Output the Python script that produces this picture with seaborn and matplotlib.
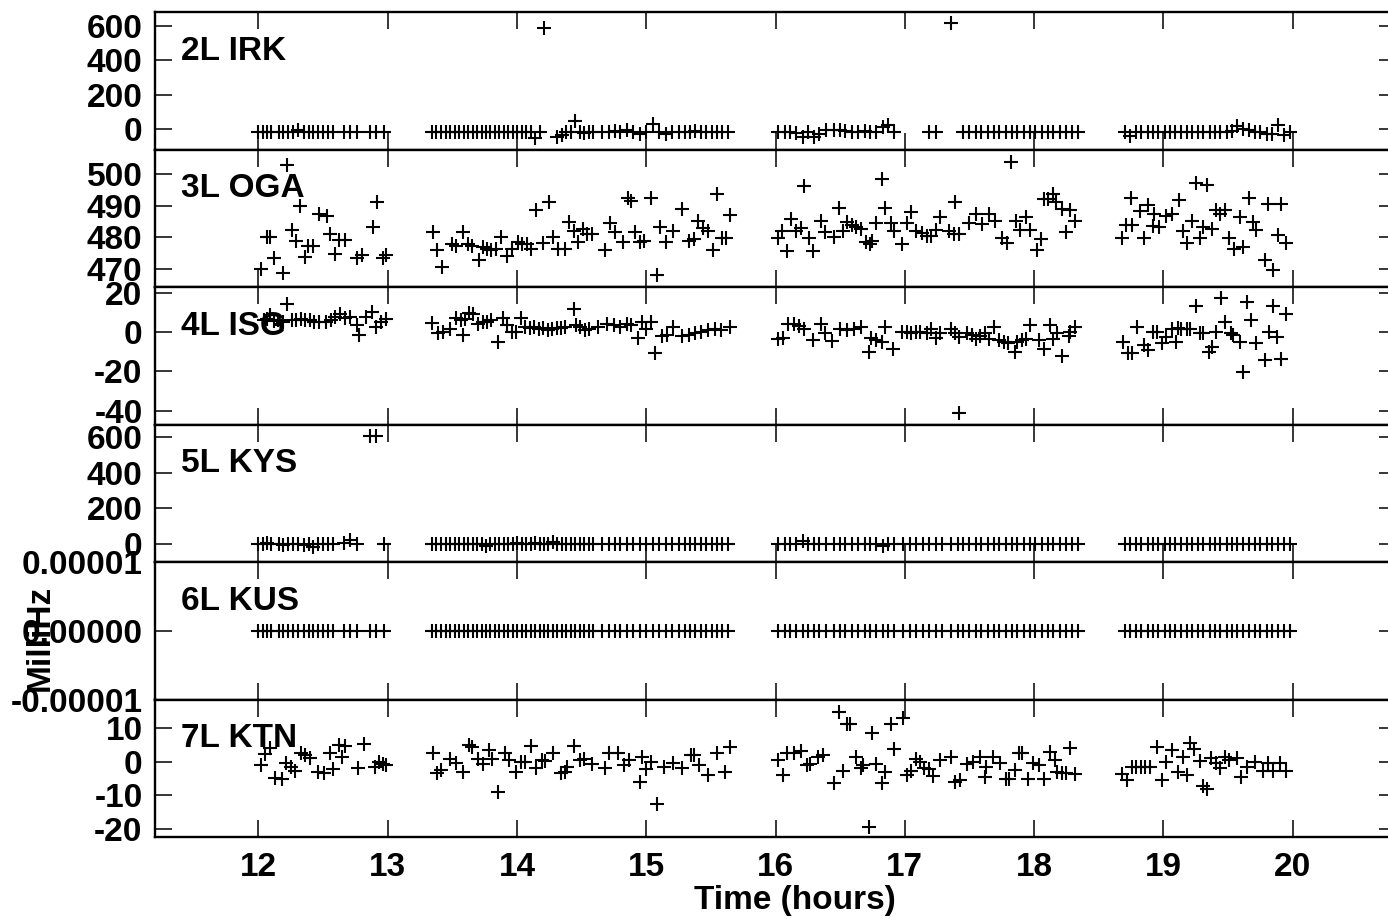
import numpy as np
import matplotlib
matplotlib.use("Agg")
import matplotlib.pyplot as plt
from matplotlib.ticker import FormatStrFormatter
import seaborn as sns

sns.set_theme(style="white")
plt.rcParams['font.family'] = ['Liberation Sans', 'DejaVu Sans']
plt.rcParams['font.weight'] = 'bold'
plt.rcParams['axes.unicode_minus'] = False

nan = np.nan

# ---------------- common time stamps (hours) for the dense series ----------------
T_SEG1 = [12.00, 12.035, 12.07, 12.10, 12.16, 12.19, 12.23, 12.27, 12.31, 12.35, 12.39,
          12.42, 12.46, 12.50, 12.54, 12.58, 12.66, 12.71, 12.76, 12.86, 12.91, 12.97]
T_SEG2 = [13.34, 13.37, 13.41, 13.45, 13.48, 13.52, 13.55, 13.59, 13.62, 13.66, 13.69,
          13.73, 13.76, 13.79, 13.83, 13.86, 13.90, 13.93, 13.97, 14.00, 14.04, 14.07,
          14.11, 14.14, 14.18, 14.21, 14.24, 14.28, 14.31, 14.35, 14.38, 14.42, 14.45,
          14.49, 14.52, 14.56, 14.59, 14.66, 14.71, 14.76, 14.80, 14.85, 14.90, 14.95,
          15.00, 15.05, 15.10, 15.15, 15.20, 15.25, 15.30, 15.34, 15.38, 15.42, 15.46,
          15.51, 15.55, 15.59, 15.63]
T_SEG3 = [16.02, 16.07, 16.11, 16.16, 16.21, 16.25, 16.30, 16.34, 16.39, 16.45, 16.50,
          16.54, 16.59, 16.64, 16.69, 16.73, 16.78, 16.83, 16.87, 16.92, 16.99, 17.04,
          17.09, 17.14, 17.19, 17.24, 17.29, 17.36, 17.41, 17.45, 17.50, 17.55, 17.59,
          17.64, 17.69, 17.73, 17.78, 17.83, 17.87, 17.92, 17.97, 18.01, 18.06, 18.11,
          18.15, 18.20, 18.25, 18.29, 18.34]
T_SEG4 = [18.70, 18.74, 18.79, 18.83, 18.88, 18.92, 18.96, 19.01, 19.05, 19.09, 19.14,
          19.18, 19.22, 19.27, 19.31, 19.36, 19.40, 19.44, 19.49, 19.53, 19.57, 19.62,
          19.66, 19.71, 19.75, 19.80, 19.84, 19.89, 19.93, 19.98]

# ---------------- 2L IRK ----------------
IRK_SEG1 = [-20, -20, -20, -20, -20, -20, -20, -20, -5, -20, -20,
            -20, -20, -20, -20, -20, -20, -20, -20, -20, -20, -20]
IRK_SEG2 = [-20, -20, -20, -20, -20, -20, -20, -20, -20, -20, -20,
            -20, -20, -20, -20, -20, -20, -20, -20, -20, -20, -20,
            -20, -55, -20, 590, nan, nan, -50, -35, -20, -20, 45,
            -20, -25, -20, -20, -20, -20, -15, -20, -10, -20, -30,
            -20, 30, -20, -30, -20, -20, -20, -20, -15, -20, -20,
            -20, -20, -20, -20]
IRK_SEG3 = [-20, -20, -20, -25, -50, -20, -50, -30, -10, -5, -10,
            -15, -20, -20, -15, -20, -20, 10, 20, -20, nan, nan,
            nan, nan, -20, -20, nan, 618, nan, -20, -20, -20, -20,
            -20, -20, -20, -20, -20, -20, -20, -20, -20, -20, -20,
            -20, -20, -20, -20, -20]
IRK_SEG4 = [-20, -40, -20, -20, -20, -20, -20, -20, -20, -20, -20,
            -20, -20, -20, -20, -20, -20, -20, -20, -15, 15, 0,
            -10, -20, -20, -30, -30, 20, -35, -20]

# ---------------- 5L KYS ----------------
KYS_SEG1 = [-3, -3, 2, -3, -3, -6, -3, 0, -3, -8, -3,
            -20, -3, -3, 0, -3, 5, 20, -3, 606, 606, -3]
KYS_SEG2 = [-3, -3, -3, -3, -3, -5, -3, -3, 0, -3, -3,
            -3, -12, -3, -3, -3, 0, -3, -3, 5, -3, -3,
            -3, 3, -3, -3, -3, 8, -3, -3, 0, -3, -3,
            -3, -3, -3, -3, -3, -3, -3, -3, -3, -3, -3,
            -3, -3, -3, -3, -3, -3, -3, -3, -3, -3, -3,
            -3, -3, -3, -3]
KYS_SEG3 = [-3, -3, -3, -3, 15, -3, -3, -3, -3, -3, -3,
            -3, -3, -3, -3, -3, -3, -15, -3, -3, -3, -3,
            -3, -3, -3, -3, -3, -3, -3, -3, -3, -3, -3,
            -3, -3, -3, -3, -3, -3, -3, -3, -3, -3, -3,
            -3, -3, -3, -3, -3]
KYS_SEG4 = [-3, -3, -3, -3, -3, -3, -3, -3, -3, -3, -3,
            -3, -3, -3, -3, -3, -3, -3, -3, -3, -3, -3,
            -3, -3, -3, -3, -3, -3, -3, -3]

# ---------------- 6L KUS ----------------
KUS_SEG1 = [0.0, 0.0, 0.0, 0.0, 0.0, 0.0, 0.0, 0.0, 0.0, 0.0, 0.0,
            0.0, 0.0, 0.0, 0.0, 0.0, 0.0, 0.0, 0.0, 0.0, 0.0, 0.0]
KUS_SEG2 = [0.0, 0.0, 0.0, 0.0, 0.0, 0.0, 0.0, 0.0, 0.0, 0.0, 0.0,
            0.0, 0.0, 0.0, 0.0, 0.0, 0.0, 0.0, 0.0, 0.0, 0.0, 0.0,
            0.0, 0.0, 0.0, 0.0, 0.0, 0.0, 0.0, 0.0, 0.0, 0.0, 0.0,
            0.0, 0.0, 0.0, 0.0, 0.0, 0.0, 0.0, 0.0, 0.0, 0.0, 0.0,
            0.0, 0.0, 0.0, 0.0, 0.0, 0.0, 0.0, 0.0, 0.0, 0.0, 0.0,
            0.0, 0.0, 0.0, 0.0]
KUS_SEG3 = [0.0, 0.0, 0.0, 0.0, 0.0, 0.0, 0.0, 0.0, 0.0, 0.0, 0.0,
            0.0, 0.0, 0.0, 0.0, 0.0, 0.0, 0.0, 0.0, 0.0, 0.0, 0.0,
            0.0, 0.0, 0.0, 0.0, 0.0, 0.0, 0.0, 0.0, 0.0, 0.0, 0.0,
            0.0, 0.0, 0.0, 0.0, 0.0, 0.0, 0.0, 0.0, 0.0, 0.0, 0.0,
            0.0, 0.0, 0.0, 0.0, 0.0]
KUS_SEG4 = [0.0, 0.0, 0.0, 0.0, 0.0, 0.0, 0.0, 0.0, 0.0, 0.0, 0.0,
            0.0, 0.0, 0.0, 0.0, 0.0, 0.0, 0.0, 0.0, 0.0, 0.0, 0.0,
            0.0, 0.0, 0.0, 0.0, 0.0, 0.0, 0.0, 0.0]

# ---------------- 3L OGA ----------------
OGA_T = [12.02, 12.07, 12.09, 12.12, 12.19, 12.22, 12.26, 12.29, 12.32, 12.36, 12.38,
         12.42, 12.47, 12.53, 12.55, 12.59, 12.62, 12.67, 12.76, 12.80, 12.89, 12.92,
         12.96, 12.99,
         13.35, 13.38, 13.42, 13.50, 13.53, 13.58, 13.62, 13.65, 13.71, 13.74, 13.77,
         13.80, 13.84, 13.88, 13.92, 13.96, 14.01, 14.04, 14.08, 14.11, 14.15, 14.20,
         14.25, 14.28, 14.32, 14.37, 14.40, 14.44, 14.47, 14.51, 14.54, 14.58, 14.68,
         14.72, 14.76, 14.82, 14.86, 14.88, 14.91, 14.95, 14.98, 15.04, 15.08, 15.11,
         15.15, 15.21, 15.28, 15.33, 15.37, 15.40, 15.44, 15.48, 15.52, 15.55, 15.59,
         15.62, 15.65,
         16.02, 16.05, 16.09, 16.12, 16.16, 16.20, 16.22, 16.26, 16.29, 16.35, 16.38,
         16.45, 16.49, 16.52, 16.55, 16.59, 16.62, 16.66, 16.70, 16.73, 16.75, 16.78,
         16.82, 16.85, 16.89, 16.92, 16.98, 17.02, 17.05, 17.09, 17.13, 17.17, 17.20,
         17.24, 17.27, 17.34, 17.38, 17.39, 17.42, 17.50, 17.55, 17.60, 17.65, 17.70,
         17.75, 17.79, 17.82, 17.86, 17.89, 17.94, 17.97, 18.02, 18.05, 18.08, 18.11,
         18.15, 18.17, 18.22, 18.25, 18.28, 18.32,
         18.68, 18.71, 18.75, 18.76, 18.82, 18.85, 18.88, 18.92, 18.93, 18.97, 19.02,
         19.07, 19.12, 19.15, 19.18, 19.22, 19.25, 19.28, 19.31, 19.34, 19.38, 19.41,
         19.44, 19.48, 19.51, 19.55, 19.59, 19.62, 19.66, 19.69, 19.72, 19.79, 19.81,
         19.85, 19.89, 19.91, 19.95]
OGA_V = [470.0, 480.0, 480.0, 473.3, 468.6, 503.0, 482.3, 478.9, 490.0, 473.6, 477.3,
         477.3, 487.3, 486.8, 481.0, 474.7, 479.0, 479.0, 473.5, 474.2, 483.1, 491.0,
         473.5, 474.2,
         481.5, 476.0, 470.5, 477.8, 477.3, 481.5, 477.8, 477.3, 472.8, 476.8, 476.3,
         476.0, 476.3, 480.0, 473.9, 476.3, 478.4, 477.9, 477.9, 476.3, 488.6, 478.0,
         491.0, 480.0, 476.3, 476.3, 484.7, 482.0, 478.4, 482.6, 481.0, 481.0, 475.8,
         484.4, 481.5, 478.4, 492.5, 491.5, 481.5, 478.4, 478.9, 492.3, 467.9, 483.1,
         478.4, 482.0, 488.9, 478.9, 479.5, 485.2, 483.0, 482.0, 475.8, 493.6, 479.7,
         479.7, 487.0,
         479.7, 482.0, 475.5, 485.7, 482.0, 482.9, 496.2, 479.7, 475.5, 485.0, 481.5,
         480.0, 489.2, 482.0, 484.7, 483.9, 483.1, 482.6, 478.4, 477.9, 478.9, 484.4,
         498.3, 489.2, 484.4, 482.0, 477.9, 484.4, 488.1, 481.8, 481.2, 480.5, 480.5,
         482.3, 486.3, 482.0, 481.0, 491.0, 481.0, 484.4, 487.3, 484.2, 487.3, 485.2,
         479.7, 478.0, 503.9, 485.2, 482.3, 486.5, 482.3, 476.0, 479.4, 492.0, 492.0,
         493.8, 491.0, 488.9, 481.5, 488.6, 485.0,
         479.7, 483.9, 492.3, 483.9, 488.4, 479.7, 490.2, 483.6, 487.3, 483.1, 486.8,
         487.3, 491.7, 482.0, 478.0, 485.0, 497.3, 479.7, 483.1, 496.5, 482.6, 488.6,
         487.3, 488.6, 479.7, 476.3, 486.5, 477.0, 492.5, 484.7, 482.3, 472.8, 490.5,
         469.5, 480.8, 490.5, 478.0]

# ---------------- 4L ISG ----------------
ISG_T = [12.04, 12.07, 12.09, 12.12, 12.15, 12.19, 12.22, 12.26, 12.29, 12.33, 12.36,
         12.40, 12.43, 12.47, 12.52, 12.56, 12.59, 12.63, 12.67, 12.71, 12.76, 12.78,
         12.83, 12.88, 12.91, 12.95, 12.99,
         13.34, 13.39, 13.43, 13.48, 13.53, 13.57, 13.58, 13.60, 13.63, 13.66, 13.70,
         13.74, 13.77, 13.80, 13.85, 13.89, 13.92, 13.96, 13.99, 14.03, 14.06, 14.10,
         14.13, 14.17, 14.20, 14.24, 14.27, 14.31, 14.34, 14.37, 14.44, 14.46, 14.49,
         14.53, 14.56, 14.63, 14.70, 14.75, 14.80, 14.85, 14.88, 14.94, 14.97, 15.00,
         15.04, 15.07, 15.12, 15.16, 15.21, 15.28, 15.33, 15.38, 15.42, 15.48, 15.53,
         15.58, 15.65,
         16.02, 16.06, 16.10, 16.14, 16.18, 16.22, 16.29, 16.35, 16.38, 16.44, 16.50,
         16.55, 16.61, 16.66, 16.72, 16.74, 16.78, 16.82, 16.85, 16.91, 16.98, 17.02,
         17.05, 17.09, 17.12, 17.17, 17.20, 17.24, 17.27, 17.36, 17.39, 17.42, 17.42,
         17.48, 17.52, 17.55, 17.58, 17.62, 17.65, 17.69, 17.73, 17.77, 17.80, 17.85,
         17.87, 17.91, 17.94, 17.97, 18.04, 18.08, 18.12, 18.15, 18.18, 18.22, 18.27,
         18.28, 18.32,
         18.69, 18.73, 18.76, 18.80, 18.85, 18.88, 18.92, 18.95, 18.99, 19.02, 19.07,
         19.10, 19.11, 19.14, 19.18, 19.21, 19.25, 19.28, 19.31, 19.35, 19.38, 19.41,
         19.45, 19.48, 19.52, 19.54, 19.59, 19.62, 19.65, 19.68, 19.72, 19.79, 19.82,
         19.85, 19.88, 19.91, 19.95]
ISG_V = [5.9, 6.5, 8.5, 5.5, 6.0, 5.0, 14.4, 6.0, 6.0, 6.5, 6.0,
         6.0, 5.0, 5.0, 5.0, 6.0, 7.6, 9.3, 7.0, 7.6, 3.4, -1.7,
         7.6, 10.2, 2.5, 5.1, 6.3,
         4.6, -0.8, 0.0, 1.2, 6.8, 5.9, -1.7, 6.3, 9.8, 9.0, 4.2,
         5.1, 5.1, 5.9, -5.1, 6.8, 3.4, 0.0, 0.0, 6.8, 2.5, 2.0,
         2.5, 1.5, 2.0, 1.0, 1.5, 2.0, 2.0, 2.5, 11.4, 3.4, 2.5,
         1.0, 1.2, 2.5, 4.2, 3.4, 2.5, 4.2, 3.4, -2.9, 5.1, 1.7,
         5.1, -11.0, -2.2, -1.7, 2.5, -2.2, -1.7, -0.8, 0.0, 0.8, 1.2,
         0.8, 2.5,
         -3.4, -2.9, 4.2, 4.2, 2.9, 1.2, -3.9, 4.2, -0.8, -4.6, 1.7,
         0.8, 1.7, 2.5, -10.2, -2.9, -4.2, -5.1, 2.5, -8.5, 0.0, 0.0,
         -0.8, 0.0, 0.0, -0.8, 1.7, -2.9, -0.8, 1.7, -0.8, -2.5, -41.2,
         -0.8, -1.7, -3.4, -2.2, -0.8, -3.4, 2.5, -4.2, -5.1, -5.9, -10.2,
         -5.1, -4.2, -3.4, 3.4, -4.2, -8.5, 3.4, -3.4, -0.8, -12.4, -2.2,
         0.0, 2.5,
         -5.1, -11.0, -11.0, 2.5, -6.8, -9.3, 0.0, 0.0, -5.9, -2.5, 1.5,
         -5.1, 2.0, 1.5, 1.5, 1.5, 13.0, -0.8, -0.8, -10.2, -7.6, 0.0,
         17.0, 5.1, -0.8, -1.7, -5.1, -20.3, 15.3, 5.9, -5.6, -14.4, 0.0,
         13.0, -2.5, -14.0, 9.3]

# ---------------- 7L KTN ----------------
KTN_T = [12.02, 12.05, 12.09, 12.13, 12.18, 12.21, 12.25, 12.28, 12.33, 12.36, 12.40,
         12.46, 12.51, 12.55, 12.58, 12.62, 12.65, 12.67, 12.77, 12.82, 12.90, 12.93,
         12.96, 12.99,
         13.35, 13.38, 13.41, 13.48, 13.53, 13.58, 13.63, 13.65, 13.70, 13.74, 13.78,
         13.81, 13.85, 13.91, 13.94, 13.99, 14.03, 14.06, 14.11, 14.15, 14.19, 14.22,
         14.28, 14.34, 14.37, 14.39, 14.44, 14.49, 14.52, 14.58, 14.68, 14.71, 14.78,
         14.83, 14.87, 14.95, 14.97, 15.00, 15.04, 15.08, 15.14, 15.21, 15.28, 15.35,
         15.37, 15.41, 15.48, 15.55, 15.61, 15.65,
         16.02, 16.06, 16.09, 16.14, 16.20, 16.24, 16.27, 16.33, 16.37, 16.45, 16.49,
         16.52, 16.55, 16.58, 16.62, 16.66, 16.68, 16.72, 16.75, 16.78, 16.82, 16.85,
         16.89, 16.92, 16.99, 17.02, 17.05, 17.09, 17.12, 17.15, 17.19, 17.22, 17.27,
         17.36, 17.39, 17.43, 17.48, 17.53, 17.58, 17.62, 17.63, 17.68, 17.74, 17.78,
         17.81, 17.85, 17.88, 17.91, 17.95, 17.99, 18.04, 18.08, 18.12, 18.16, 18.18,
         18.22, 18.25, 18.28, 18.32,
         18.68, 18.72, 18.76, 18.79, 18.83, 18.86, 18.90, 18.95, 18.99, 19.02, 19.07,
         19.11, 19.15, 19.18, 19.21, 19.24, 19.28, 19.31, 19.34, 19.37, 19.41, 19.44,
         19.48, 19.51, 19.57, 19.60, 19.65, 19.71, 19.77, 19.81, 19.85, 19.90, 19.95]
KTN_V = [-1.0, 2.3, 4.0, -4.7, -5.0, -0.5, -1.7, -2.7, 2.7, 2.0, 1.0,
         -3.0, -3.5, 2.5, -2.3, 5.0, 1.3, 4.5, -2.0, 5.2, -1.5, 0.0,
         -0.7, -1.0,
         2.7, -3.3, -2.5, 0.7, -0.5, -3.0, 5.0, 4.3, 0.7, -0.7, 3.5,
         0.7, -8.9, 2.5, 0.5, -3.0, 0.0, 0.0, 4.5, -2.0, 0.5, 0.3,
         2.7, -3.5, -3.0, -1.5, 4.7, 0.5, 0.7, -0.7, -2.0, 2.7, 2.7,
         -1.0, 0.5, -5.9, 1.5, -2.3, 0.0, -12.6, -1.7, -0.3, -2.0, 2.0,
         2.0, -1.0, -4.0, 2.5, -3.0, 4.3,
         0.5, -4.0, 2.7, 2.7, 3.3, -1.0, -0.7, 1.5, 2.0, -6.2, 14.6,
         -2.7, 11.2, 11.2, 1.3, -2.0, -1.0, -19.3, 8.4, -0.7, -6.2, -3.0,
         11.2, 3.7, 12.9, -4.0, -2.7, 0.7, 0.0, -2.0, -2.3, -4.3, 0.5,
         1.5, -5.9, -5.4, -0.7, 0.0, 1.5, -4.5, -1.5, 1.5, -0.5, -5.0,
         -5.0, -2.5, 2.7, 2.7, -5.2, -0.5, -1.0, -5.2, 3.0, 0.5, -3.0,
         -3.5, -3.5, 4.0, -3.7,
         -3.7, -5.4, -1.7, -1.7, -1.7, -1.7, -1.7, 4.3, -5.4, 0.0, 3.5,
         -3.0, 1.5, -4.0, 5.6, 3.7, 0.3, -7.2, -8.2, 1.0, -0.5, -2.0,
         1.5, 0.5, 1.0, -4.5, -1.5, 0.0, -2.7, -0.3, -2.7, -0.3, -2.7]

PANEL_NAMES = ["2L IRK", "3L OGA", "4L ISG", "5L KYS", "6L KUS", "7L KTN"]
X_TICKS = [12, 13, 14, 15, 16, 17, 18, 19, 20]
Y_TICKS = [[0, 200, 400, 600],
           [470, 480, 490, 500],
           [-40, -20, 0, 20],
           [0, 200, 400, 600],
           [-0.00001, 0.0, 0.00001],
           [-20, -10, 0, 10]]
Y_LIMITS = [(-121, 682), (464.2, 507.8), (-47.1, 22.8), (-104, 672), (-0.00001, 0.00001), (-22.3, 18.4)]

T_ALL = T_SEG1 + T_SEG2 + T_SEG3 + T_SEG4
series = [
    (T_ALL, IRK_SEG1 + IRK_SEG2 + IRK_SEG3 + IRK_SEG4),
    (OGA_T, OGA_V),
    (ISG_T, ISG_V),
    (T_ALL, KYS_SEG1 + KYS_SEG2 + KYS_SEG3 + KYS_SEG4),
    (T_ALL, KUS_SEG1 + KUS_SEG2 + KUS_SEG3 + KUS_SEG4),
    (KTN_T, KTN_V),
]

W, H = 1388, 919
fig = plt.figure(figsize=(W / 100, H / 100), dpi=100)
gs = fig.add_gridspec(6, 1, left=155 / W, right=1396 / W, top=1 - 12 / H,
                      bottom=1 - 837 / H, hspace=0)

FS = 24
for i, (name, (tx, vy)) in enumerate(zip(PANEL_NAMES, series)):
    ax = fig.add_subplot(gs[i, 0])
    ax.set_facecolor('white')
    sns.scatterplot(x=np.array(tx, dtype=float), y=np.array(vy, dtype=float), ax=ax,
                    marker='+', s=100, color='black', linewidth=1.5, legend=False)
    ax.set_xlim(11.2, 20.8)
    ax.set_ylim(*Y_LIMITS[i])
    ax.set_xticks(X_TICKS)
    ax.set_yticks(Y_TICKS[i])
    if i == 4:
        ax.yaxis.set_major_formatter(FormatStrFormatter('%.5f'))
    ax.tick_params(axis='both', which='major', direction='in', length=12, width=1.1,
                   top=True, right=True, bottom=True, left=True, labelsize=FS,
                   colors='black', pad=9)
    ax.tick_params(axis='x', pad=11)
    for lab in ax.get_yticklabels() + ax.get_xticklabels():
        lab.set_fontweight('bold')
    if i < 5:
        ax.tick_params(labelbottom=False)
    for sp in ax.spines.values():
        sp.set_visible(True)
        sp.set_color('black')
        sp.set_linewidth(1.7)
    ax.set_xlabel('')
    ax.set_ylabel('')
    ax.text(0.021, 0.651, name, transform=ax.transAxes, fontsize=FS,
            fontweight='bold', ha='left', va='baseline', color='black')

fig.text(795 / W, 1 - 909 / H, "Time (hours)", fontsize=FS, fontweight='bold',
         ha='center', va='baseline', color='black')
fig.text(40 / W, 1 - 638 / H, "MilliHz", fontsize=FS, fontweight='bold',
         ha='center', va='center', rotation=90, color='black')

fig.savefig("out.png", dpi=100, facecolor='white')
